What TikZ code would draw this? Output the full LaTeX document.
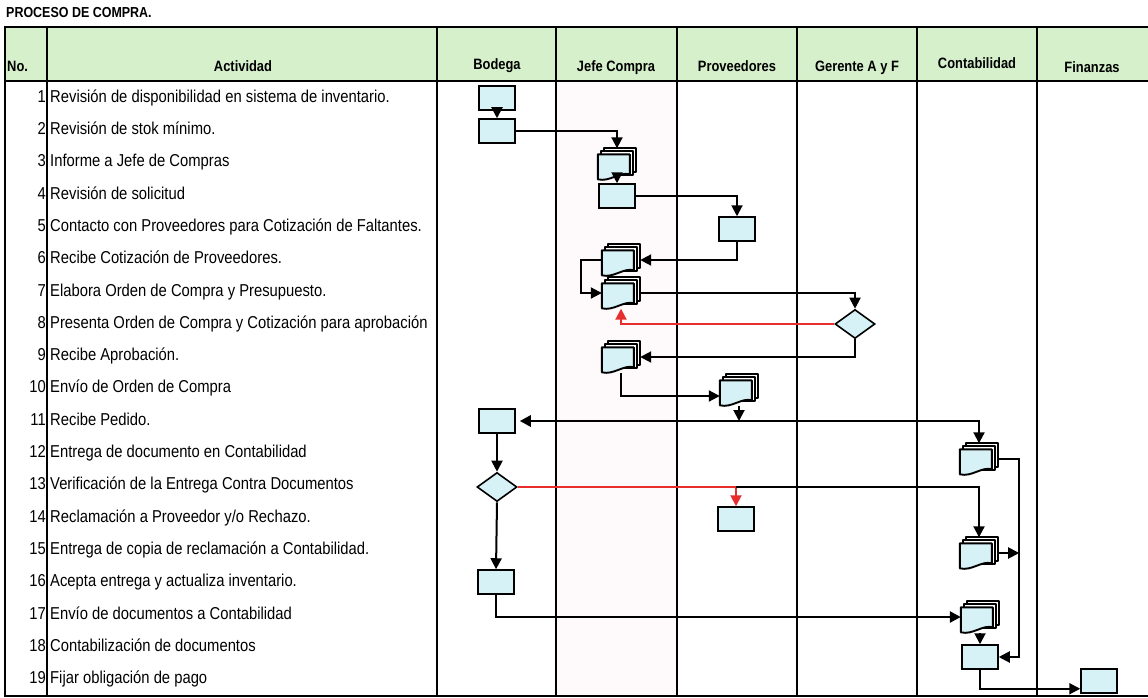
\documentclass[tikz,border=0pt]{standalone}
\usepackage{fontspec}
\setmainfont{Liberation Sans}[FakeStretch=0.86]
\usetikzlibrary{arrows.meta,shapes.geometric,calc}
\definecolor{hdr}{RGB}{214,240,204}
\definecolor{shp}{RGB}{214,242,247}
\definecolor{pinkish}{RGB}{254,249,251}
\definecolor{redl}{RGB}{232,45,45}
\newcommand{\mdoc}[1]{%
  \begin{scope}[shift={(#1.north west)}]
    \draw[docline,fill=white] (6,0) rectangle (38,24);
    \draw[docline,fill=white] (3,3) rectangle (35,27);
    \draw[docline,fill=shp] (0,6) -- (32,6) -- (32,26) .. controls (22,23) and (12,34) .. (0,31) -- cycle;
  \end{scope}}
\begin{document}
\begin{tikzpicture}[x=1pt,y=-1pt,
  gridline/.style={line width=2.6pt, line cap=rect},
  docline/.style={line width=1.9pt, line join=round},
  box/.style={draw, line width=1.5pt, fill=shp, minimum width=36pt, minimum height=24pt, inner sep=0pt},
  doc/.style={minimum width=38pt, minimum height=31pt, inner sep=0pt},
  dia/.style={diamond, draw, line width=1.6pt, fill=shp, minimum width=40pt, minimum height=29pt, inner sep=0pt},
  arr/.style={line width=2pt, -{Triangle[length=11pt,width=11pt]}},
  plain/.style={line width=2pt},
  lbl/.style={anchor=west, inner sep=0pt, font=\fontsize{17.2}{19}\selectfont, text height=12pt, text depth=3.5pt},
  num/.style={anchor=east, inner sep=0pt, font=\fontsize{17.2}{19}\selectfont, text height=12pt, text depth=3.5pt},
  hd/.style={inner sep=0pt, font=\fontsize{15}{17}\selectfont\bfseries, text height=11pt, text depth=3pt}
]
\useasboundingbox (0,0) rectangle (1148,698);
\fill[white] (0,0) rectangle (1148,698);
% title
\node[anchor=west, inner sep=0pt, font=\fontsize{14.5}{16}\selectfont\bfseries] (title) at (6,13) {PROCESO DE COMPRA.};
% backgrounds
\fill[hdr] (5,27) rectangle (1148,81);
\fill[pinkish] (556,82) rectangle (677,695);
% grid
\draw[gridline] (5,27) -- (1148,27);
\draw[gridline] (5,81) -- (1148,81);
\draw[gridline] (5,696) -- (1148,696);
\foreach \gx in {5,47,437,556,677,797,917,1037} {\draw[gridline] (\gx,27) -- (\gx,696);}
% headers
\node[hd, anchor=west] (hno) at (7,68) {No.};
\node[hd] (hact) at (243,68) {Actividad};
\node[hd] (hbod) at (497,66) {Bodega};
\node[hd] (hjef) at (616,68) {Jefe Compra};
\node[hd] (hpro) at (737,68) {Proveedores};
\node[hd] (hger) at (857,68) {Gerente A y F};
\node[hd] (hcon) at (977,65) {Contabilidad};
\node[hd] (hfin) at (1092,69) {Finanzas};
% row numbers and activities
\foreach \r in {1,...,19} {\node[num] (n\r) at (46,{98+(\r-1)*32.3}) {\r};}
\node[lbl] (t1) at (50,98.0) {Revisión de disponibilidad en sistema de inventario.};
\node[lbl] (t2) at (50,130.3) {Revisión de stok mínimo.};
\node[lbl] (t3) at (50,162.6) {Informe a Jefe de Compras};
\node[lbl] (t4) at (50,194.9) {Revisión de solicitud};
\node[lbl] (t5) at (50,227.2) {Contacto con Proveedores para Cotización de Faltantes.};
\node[lbl] (t6) at (50,259.5) {Recibe Cotización de Proveedores.};
\node[lbl] (t7) at (50,291.8) {Elabora Orden de Compra y Presupuesto.};
\node[lbl] (t8) at (50,324.1) {Presenta Orden de Compra y Cotización para aprobación};
\node[lbl] (t9) at (50,356.4) {Recibe Aprobación.};
\node[lbl] (t10) at (50,388.7) {Envío de Orden de Compra};
\node[lbl] (t11) at (50,421.0) {Recibe Pedido.};
\node[lbl] (t12) at (50,453.3) {Entrega de documento en Contabilidad};
\node[lbl] (t13) at (50,485.6) {Verificación de la Entrega Contra Documentos};
\node[lbl] (t14) at (50,517.9) {Reclamación a Proveedor y/o Rechazo.};
\node[lbl] (t15) at (50,550.2) {Entrega de copia de reclamación a Contabilidad.};
\node[lbl] (t16) at (50,582.5) {Acepta entrega y actualiza inventario.};
\node[lbl] (t17) at (50,614.8) {Envío de documentos a Contabilidad};
\node[lbl] (t18) at (50,647.1) {Contabilización de documentos};
\node[lbl] (t19) at (50,679.4) {Fijar obligación de pago};
% flow shapes
\node[box] (b1) at (497,98) {};
\node[box] (b2) at (497,131) {};
\node[doc] (d3) at (617,164) {};
\node[box] (b4) at (617,196) {};
\node[box] (b5) at (737,229) {};
\node[doc] (d6) at (621,260) {};
\node[doc] (d7) at (621,293) {};
\node[dia] (g8) at (855,324) {};
\node[doc] (d9) at (621,357) {};
\node[doc] (d10) at (739,390) {};
\node[box] (b11) at (497,421) {};
\node[doc] (d12) at (979,459) {};
\node[dia] (g13) at (497,487) {};
\node[box] (b14) at (736,519) {};
\node[doc] (d15) at (979,553) {};
\node[box] (b16) at (496,582) {};
\node[doc] (d17) at (980,617) {};
\node[box] (b18) at (980,657) {};
\node[box] (b19) at (1099,681) {};
\mdoc{d3}\mdoc{d6}\mdoc{d7}\mdoc{d9}\mdoc{d10}\mdoc{d12}\mdoc{d15}\mdoc{d17}
% connectors
\draw[arr] (b1.south) -- (b2.north);
\draw[arr] (b2.east) -| (d3.north);
\draw[arr] (d3.south) -- (b4.north);
\draw[arr] (b4.east) -| (b5.north);
\draw[arr] (b5.south) |- (d6.east);
\draw[arr] (d6.west) -- ++(-21,0) |- (d7.west);
\draw[arr] (d7.east) -| (g8.north);
\draw[arr, redl] (g8.west) -| (d7.south);
\draw[arr] (g8.south) |- (d9.east);
\draw[arr] (d9.south) |- ($(d10.west)+(0,6)$);
\coordinate (j1) at (d10.south |- b11.east);
\draw[arr] (d10.south) -- (j1);
\draw[arr, line width=2.8pt, shorten >=4pt] (j1) -- (b11.east);
\draw[arr] (j1) -| (d12.north);
\draw[arr] (b11.south) -- (g13.north);
\coordinate (j2) at (b14.north |- g13.east);
\draw[plain, redl] (g13.east) -- (j2);
\draw[arr, redl] (j2) -- (b14.north);
\draw[arr] (j2) -| (d15.north);
\draw[arr] (g13.south) -- (b16.north);
\coordinate (vl) at ($(d12.east)+(21,0)$);
\draw[arr] (d12.east) -- (vl) |- (b18.east);
\draw[arr] (d15.east) -- (d15.east -| vl);
\draw[arr, line width=2.6pt] (b16.south) |- (d17.west);
\draw[arr] (d17.south) -- (b18.north);
\draw[arr] (b18.south) |- ($(b19.south west)+(0,-5)$);
\end{tikzpicture}
\end{document}
